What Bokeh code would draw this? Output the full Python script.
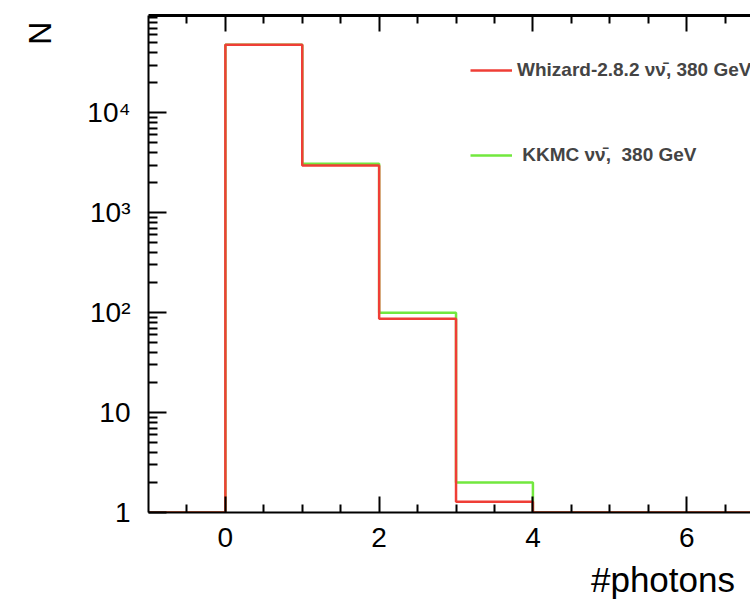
import numpy as np
from bokeh.plotting import figure
from bokeh.models import (Range1d, FixedTicker, LinearAxis, Legend, LegendItem)
from bokeh.embed import file_html
from bokeh.resources import INLINE

# ---- data ----
bin_edges = [-1, 0, 1, 2, 3, 4, 5, 6, 7, 8]
whizard_counts = [0, 47900, 2970, 87, 1.28, 0, 0, 0, 0]
kkmc_counts = [0, 47900, 3090, 100, 2.0, 0, 0, 0, 0]
whizard_label = "Whizard-2.8.2 \u03bd\u03bd\u0304, 380 GeV"
kkmc_label = " KKMC \u03bd\u03bd\u0304,  380 GeV"
x_major = [0, 2, 4, 6]
y_major = [1, 10, 100, 1000, 10000]
y_major_labels = ["1", "10", "10\u00b2", "10\u00b3", "10\u2074"]
x_title = "#photons"
y_title = "N"

Y_MIN, Y_MAX = 1, 94000
X_MIN, X_MAX = -1, 6.83

NBSP = "\u00a0"

p = figure(width=750, height=601, output_backend="svg", toolbar_location=None,
           y_axis_type="log", x_range=Range1d(X_MIN, X_MAX), y_range=Range1d(Y_MIN, Y_MAX),
           min_border_left=148, min_border_right=0, min_border_top=15, min_border_bottom=89)
p.outline_line_color = None
p.xgrid.visible = False
p.ygrid.visible = False
p.background_fill_color = "white"
p.border_fill_color = "white"


def step_xy(edges, counts):
    e = np.asarray(edges, dtype=float)
    c = np.maximum(np.asarray(counts, dtype=float), Y_MIN)
    xs = np.repeat(e, 2)[1:-1]
    ys = np.repeat(c, 2)
    return xs, ys


gx, gy = step_xy(bin_edges, kkmc_counts)
rx, ry = step_xy(bin_edges, whizard_counts)
r_green = p.line(gx, gy, line_color="#72e83e", line_width=2.5)
r_red = p.line(rx, ry, line_color="#ef3e36", line_width=2.5)

# ticks
x_minor = [v / 2 for v in range(-1, 14) if (v / 2) not in x_major]
y_minor = [m * 10 ** k for k in range(0, 5) for m in range(2, 10) if m * 10 ** k < Y_MAX]

font = "Liberation Sans"
for ax in p.xaxis:
    ax.ticker = FixedTicker(ticks=x_major, minor_ticks=x_minor)
    ax.major_tick_in = 16
    ax.major_tick_out = 0
    ax.minor_tick_in = 8
    ax.minor_tick_out = 0
    ax.axis_line_width = 2
    ax.major_tick_line_width = 2
    ax.minor_tick_line_width = 2
    ax.major_label_text_font = font
    ax.major_label_text_font_size = "28px"
    ax.major_label_text_color = "black"
    ax.major_label_standoff = 15
    # label is centred on the axis end; trailing padding shifts it left
    ax.axis_label = x_title + NBSP * 18
    ax.axis_label_text_font = font
    ax.axis_label_text_font_size = "35px"
    ax.axis_label_text_font_style = "normal"
    ax.axis_label_text_color = "black"
    ax.axis_label_text_line_height = 0.7
    ax.axis_label_standoff = 10
    ax.axis_label_align = "end"

for ax in p.yaxis:
    ax.ticker = FixedTicker(ticks=y_major, minor_ticks=y_minor)
    ax.major_label_overrides = {v: s for v, s in zip(y_major, y_major_labels)}
    ax.major_tick_in = 18
    ax.major_tick_out = 0
    ax.minor_tick_in = 9
    ax.minor_tick_out = 0
    ax.axis_line_width = 2
    ax.major_tick_line_width = 2
    ax.minor_tick_line_width = 2
    ax.major_label_text_font = font
    ax.major_label_text_font_size = "28px"
    ax.major_label_text_color = "black"
    ax.major_label_standoff = 18
    ax.axis_label = y_title + NBSP * 4
    ax.axis_label_text_font = font
    ax.axis_label_text_font_size = "32px"
    ax.axis_label_text_font_style = "normal"
    ax.axis_label_text_color = "black"
    ax.axis_label_standoff = 26
    ax.axis_label_align = "end"

top = LinearAxis(ticker=FixedTicker(ticks=x_major, minor_ticks=x_minor))
top.major_tick_in = 16
top.major_tick_out = 0
top.minor_tick_in = 8
top.minor_tick_out = 0
top.axis_line_width = 3
top.major_tick_line_width = 2
top.minor_tick_line_width = 2
top.major_label_text_font_size = "0px"
top.major_label_standoff = 0
p.add_layout(top, "above")

legend = Legend(items=[LegendItem(label=whizard_label, renderers=[r_red]),
                       LegendItem(label=kkmc_label, renderers=[r_green])],
                location=(322, 346), padding=0, margin=0, spacing=63,
                glyph_width=42, glyph_height=20, label_height=20, label_standoff=5,
                border_line_color=None, background_fill_alpha=0,
                label_text_font=font, label_text_font_style="bold", label_text_font_size="19px")
p.add_layout(legend)

open("out.html", "w").write(file_html(p, INLINE))
